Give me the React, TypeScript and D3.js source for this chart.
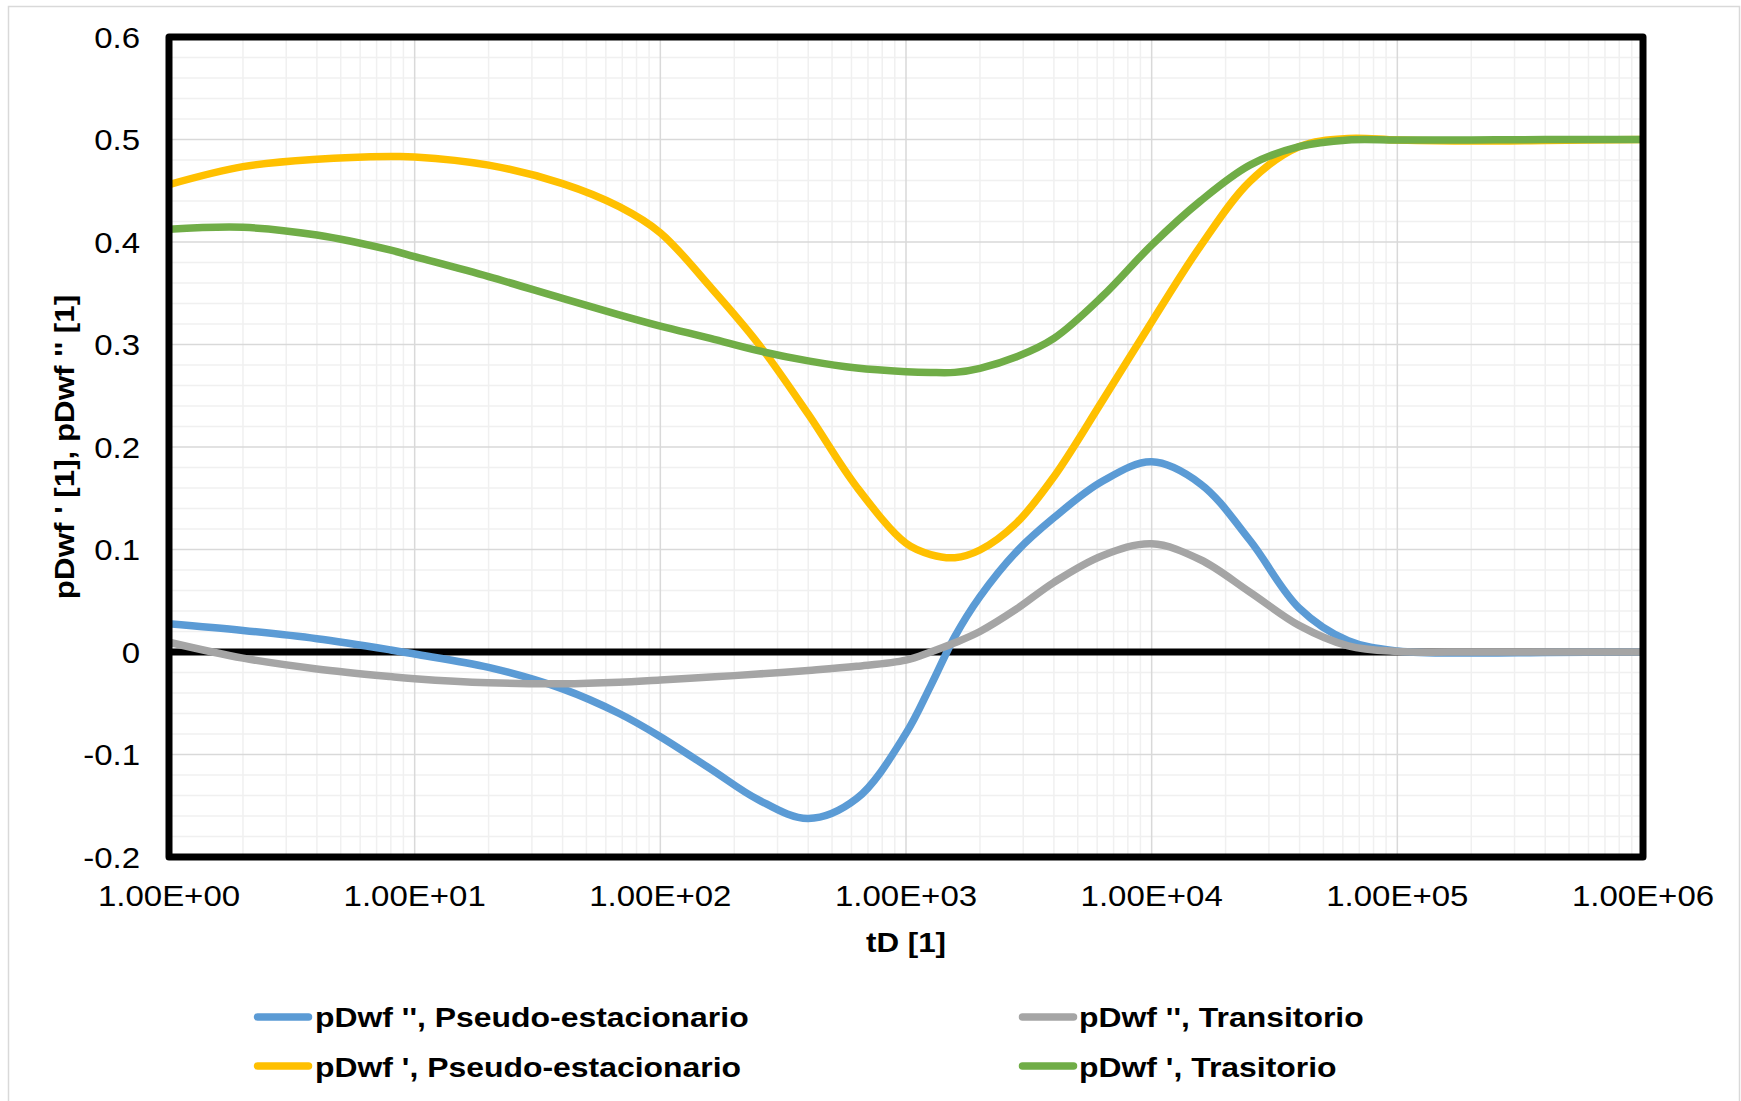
import React from "react";
import * as d3 from "d3";

// Dimensionless time samples (log axis)
const tD = [1, 2, 4, 8, 10, 20, 40, 68, 100, 160, 250, 400, 630, 1000, 1260, 1580, 2000, 2820, 4000, 6300, 10000, 15800, 25100, 39800, 63100, 100000, 200000, 400000, 1000000];

// pDwf '' , pseudo-steady state
const pseudoSecond = [0.0275, 0.021, 0.013, 0.002, -0.002, -0.015, -0.036, -0.06, -0.0826, -0.114, -0.144, -0.1625, -0.143, -0.0793, -0.033, 0.015, 0.054, 0.098, 0.131, 0.1665, 0.1855, 0.164, 0.109, 0.043, 0.011, 0.001, -0.001, -0.0005, 0.0];
// pDwf '' , transient
const transSecond = [0.0095, -0.006, -0.0165, -0.024, -0.026, -0.03, -0.031, -0.0295, -0.0273, -0.0245, -0.0215, -0.018, -0.014, -0.008, 0.0, 0.009, 0.02, 0.042, 0.068, 0.094, 0.1055, 0.09, 0.0585, 0.026, 0.006, 0.0005, 0, 0, 0];
// pDwf ' , pseudo-steady state
const pseudoPrime = [0.456, 0.4735, 0.4807, 0.4833, 0.483, 0.475, 0.457, 0.4345, 0.409, 0.356, 0.301, 0.232, 0.161, 0.106, 0.095, 0.092, 0.0995, 0.126, 0.171, 0.245, 0.322, 0.396, 0.459, 0.493, 0.501, 0.4995, 0.4985, 0.499, 0.5];
// pDwf ' , transient
const transPrime = [0.4124, 0.4143, 0.4068, 0.392, 0.3857, 0.3662, 0.345, 0.329, 0.318, 0.306, 0.294, 0.284, 0.277, 0.2735, 0.2727, 0.2728, 0.2768, 0.288, 0.306, 0.347, 0.397, 0.44, 0.475, 0.493, 0.4995, 0.4995, 0.4995, 0.5, 0.5];

const seriesNames = [
  "pDwf '', Pseudo-estacionario",
  "pDwf '', Transitorio",
  "pDwf ', Pseudo-estacionario",
  "pDwf ', Trasitorio",
];
const seriesColors = ["#5B9BD5", "#A5A5A5", "#FFC000", "#70AD47"];
const seriesValues = [pseudoSecond, transSecond, pseudoPrime, transPrime];

const xTickValues = [1, 10, 100, 1000, 10000, 100000, 1000000];
const xTickLabels = ["1.00E+00", "1.00E+01", "1.00E+02", "1.00E+03", "1.00E+04", "1.00E+05", "1.00E+06"];
const yTickValues = [0.6, 0.5, 0.4, 0.3, 0.2, 0.1, 0, -0.1, -0.2];
const yTickLabels = ["0.6", "0.5", "0.4", "0.3", "0.2", "0.1", "0", "-0.1", "-0.2"];

const xTitle = "tD [1]";
const yTitle = "pDwf ' [1], pDwf '' [1]";

const W = 1741;
const H = 1101;
const left = 169;
const right = 1643;
const top = 37;
const bottom = 857;
const FONT = "'Liberation Sans', Arial, Helvetica, sans-serif";
const SX = 1.1;
const SXL = 1.12;

export default function App() {
  const x = d3.scaleLog().domain([1, 1e6]).range([left, right]);
  const y = d3.scaleLinear().domain([-0.2, 0.6]).range([bottom, top]);

  const minorX: number[] = [];
  for (let e = 0; e < 6; e++) {
    for (let k = 2; k <= 9; k++) minorX.push(k * Math.pow(10, e));
  }
  const minorY: number[] = [];
  for (let i = 0; i <= 40; i++) {
    const v = -0.2 + i * 0.02;
    if (i % 5 !== 0) minorY.push(v);
  }

  const line = d3
    .line<number>()
    .x((_, i) => x(tD[i]))
    .y((d) => y(d))
    .curve(d3.curveCatmullRom.alpha(0.5));

  const legendRows = [
    { i: 0, lx: 257.5, ly: 1017, tx: 315, ty: 1027 },
    { i: 1, lx: 1022.5, ly: 1017, tx: 1079, ty: 1027 },
    { i: 2, lx: 257.5, ly: 1066, tx: 315, ty: 1076.5 },
    { i: 3, lx: 1022.5, ly: 1066, tx: 1079, ty: 1076.5 },
  ];

  return (
    <svg
      width={W}
      height={H}
      style={{ position: "absolute", left: 0, top: 0, background: "#fff" }}
      fontFamily={FONT}
    >
      <rect x={8.5} y={6.5} width={1731} height={1120} fill="#fff" stroke="#D9D9D9" strokeWidth={1.5} />

      {/* minor grid */}
      <g stroke="#F0F0F0" strokeWidth={1.5}>
        {minorX.map((v, i) => (
          <line key={"mx" + i} x1={x(v)} x2={x(v)} y1={top} y2={bottom} />
        ))}
        {minorY.map((v, i) => (
          <line key={"my" + i} x1={left} x2={right} y1={y(v)} y2={y(v)} />
        ))}
      </g>
      {/* major grid */}
      <g stroke="#D9D9D9" strokeWidth={1.5}>
        {xTickValues.map((v, i) => (
          <line key={"Mx" + i} x1={x(v)} x2={x(v)} y1={top} y2={bottom} />
        ))}
        {yTickValues.map((v, i) => (
          <line key={"My" + i} x1={left} x2={right} y1={y(v)} y2={y(v)} />
        ))}
      </g>

      {/* zero axis line */}
      <line x1={left} x2={right} y1={y(0)} y2={y(0)} stroke="#000" strokeWidth={7} />

      {/* series */}
      {seriesValues.map((vals, i) => (
        <path
          key={"s" + i}
          d={line(vals) || ""}
          fill="none"
          stroke={seriesColors[i]}
          strokeWidth={7.5}
          strokeLinejoin="round"
        />
      ))}

      {/* plot frame */}
      <rect
        x={left}
        y={top}
        width={right - left}
        height={bottom - top}
        fill="none"
        stroke="#000"
        strokeWidth={7}
        strokeLinejoin="round"
      />

      {/* y tick labels */}
      {yTickValues.map((v, i) => (
        <g key={"yl" + i} transform={`translate(140,${y(v) + 10.5}) scale(${SX},1)`}>
          <text textAnchor="end" fontSize={30} fill="#000">
            {yTickLabels[i]}
          </text>
        </g>
      ))}
      {/* x tick labels */}
      {xTickValues.map((v, i) => (
        <g key={"xl" + i} transform={`translate(${x(v)},906) scale(${SX},1)`}>
          <text textAnchor="middle" fontSize={30} fill="#000">
            {xTickLabels[i]}
          </text>
        </g>
      ))}

      {/* axis titles */}
      <g transform={`translate(${(left + right) / 2},951.5) scale(${SX},1)`}>
        <text textAnchor="middle" fontSize={28.5} fontWeight="bold" fill="#000">
          {xTitle}
        </text>
      </g>
      <g transform={`translate(74,${(top + bottom) / 2}) rotate(-90) scale(${SX},1)`}>
        <text textAnchor="middle" fontSize={28.5} fontWeight="bold" fill="#000">
          {yTitle}
        </text>
      </g>

      {/* legend */}
      {legendRows.map((r) => (
        <g key={"lg" + r.i}>
          <line
            x1={r.lx}
            x2={r.lx + 51}
            y1={r.ly}
            y2={r.ly}
            stroke={seriesColors[r.i]}
            strokeWidth={7.5}
            strokeLinecap="round"
          />
          <g transform={`translate(${r.tx},${r.ty}) scale(${SXL},1)`}>
            <text fontSize={28.5} fontWeight="bold" fill="#000">
              {seriesNames[r.i]}
            </text>
          </g>
        </g>
      ))}
    </svg>
  );
}
